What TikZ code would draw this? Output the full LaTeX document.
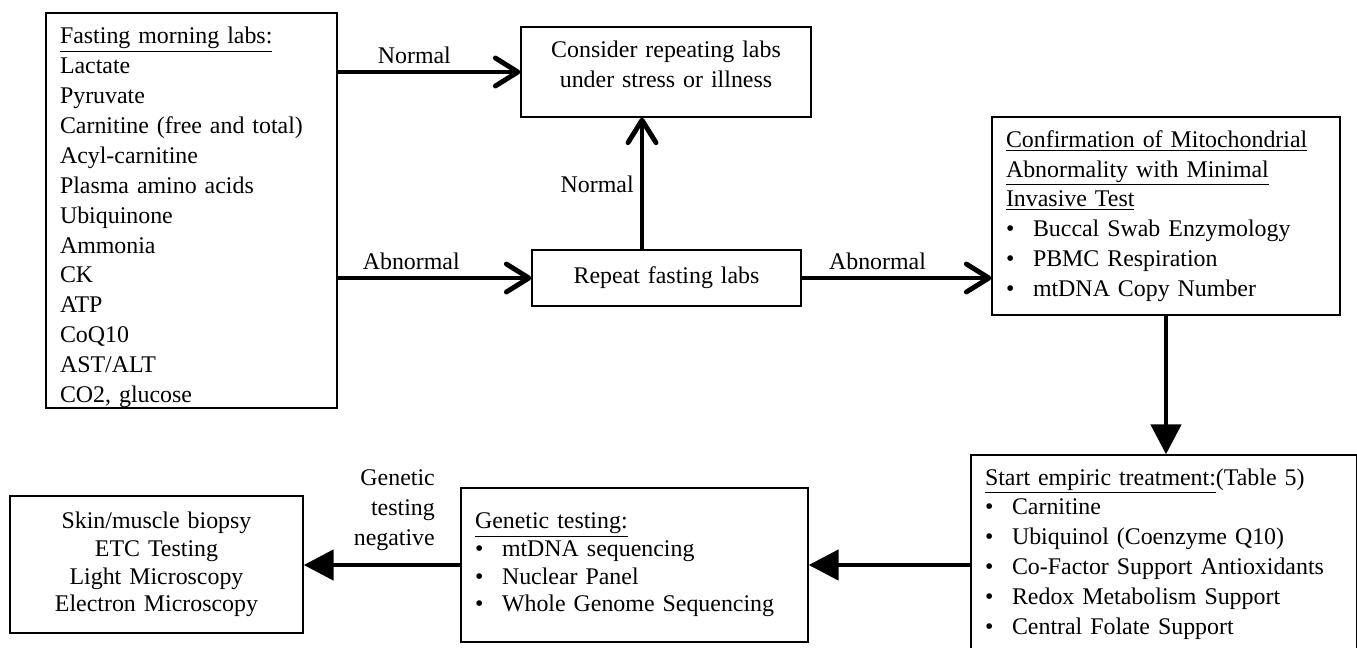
\documentclass[tikz,border=0pt]{standalone}
\usepackage{fontspec}
\setmainfont{Liberation Serif}
\usepackage{tikz}
\usetikzlibrary{arrows.meta}
\newcommand\bul{\makebox[0.54cm][l]{\textbullet}}

\begin{document}
\begin{tikzpicture}[x=0.02cm, y=-0.02cm,
		font=\fontsize{13.6}{17}\selectfont,
		box/.style={draw, line width=0.8pt, inner xsep=0.28cm, inner ysep=0pt},
		bar/.style={line width=2.8pt, -{Straight Barb[length=0.45cm, width=0.56cm, round]}},
		tri/.style={line width=2.8pt, -{Triangle[length=0.6cm, width=0.6cm]}},
		tight/.style={font=\fontsize{13.6}{15.8}\selectfont}]
			\useasboundingbox (0,0) rectangle (1357,647);
			\clip (0,0) rectangle (1357,647);
			\node[box, text width=5.26cm, minimum height=7.9cm, align=left] (labs) at (191.5,210.5)
				{\rule{0pt}{0.61cm}\underline{Fasting morning labs:}\\ Lactate\\ Pyruvate\\ Carnitine (free and total)\\
				Acyl-carnitine\\ Plasma amino acids\\ Ubiquinone\\ Ammonia\\ CK\\ ATP\\ CoQ10\\
				AST/ALT\\ CO2, glucose};
			\node[box, text width=5.24cm, minimum height=1.8cm, align=center] (consider) at (666,72)
				{Consider repeating labs\\ under stress or illness\rule[-0.32cm]{0pt}{0.32cm}};
			\node[box, text width=4.82cm, minimum height=1.12cm, align=center] (repeat) at (666.5,278)
				{Repeat fasting labs};
			\node[box, text width=6.4cm, minimum height=3.96cm, align=left] (confirm) at (1166,216)
				{\underline{Confirmation of Mitochondrial}\\ \underline{Abnormality with Minimal}\\
				\underline{Invasive Test}\\ \bul Buccal Swab Enzymology\\ \bul PBMC Respiration\\
				\bul mtDNA Copy Number};
			\node[box, text width=7.16cm, minimum height=3.96cm, align=left] (start) at (1164,554)
				{\underline{Start empiric treatment:}(Table 5)\\ \bul Carnitine\\ \bul Ubiquinol (Coenzyme Q10)\\
				\bul Co-Factor Support Antioxidants\\ \bul Redox Metabolism Support\\ \bul Central Folate Support};
			\node[box, tight, text width=6.38cm, minimum height=3.08cm, align=left] (gen) at (634.5,565)
				{\underline{Genetic testing:}\\ \bul mtDNA sequencing\\ \bul Nuclear Panel\\ \bul Whole Genome Sequencing};
			\node[box, tight, text width=5.3cm, minimum height=2.74cm, align=center] (skin) at (156.5,564.5)
				{Skin/muscle biopsy\\ ETC Testing\\ Light Microscopy\\ Electron Microscopy};
			\coordinate (up) at (642,250);
			\path (labs.east |- consider.west) edge[bar] node[pos=0.42, above] {Normal} (consider.west)
				(labs.east |- repeat.west) edge[bar] node[pos=0.38, above] {Abnormal} (repeat.west)
				(up) edge[bar] node[left] {Normal} (up |- consider.south)
				(repeat.east) edge[bar] node[pos=0.4, above] {Abnormal} (repeat.east -| confirm.west);
			\path (confirm.south) edge[tri] (confirm.south |- start.north)
				(start.west |- gen.east) edge[tri] (gen.east)
				(gen.west) edge[tri] node[pos=0.11, above left, yshift=3.5pt, align=right] {Genetic\\ testing\\ negative} (gen.west -| skin.east);
		\end{tikzpicture}
\end{document}
